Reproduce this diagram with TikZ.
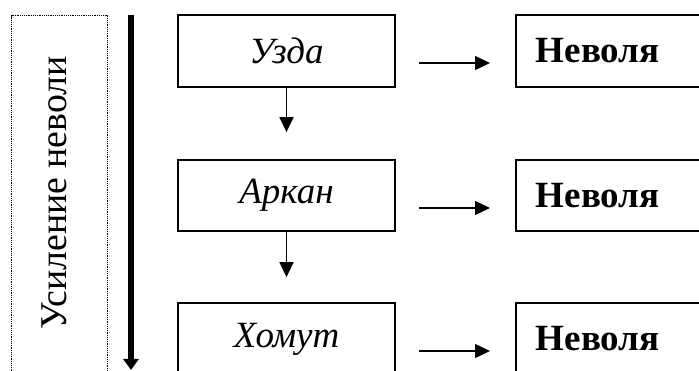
\documentclass[tikz,border=0pt]{standalone}
\usepackage{fontspec}
\setmainfont{Liberation Serif}
\usetikzlibrary{arrows.meta}
\tikzset{
  stagebox/.style={draw, line width=1.8pt, minimum width=217pt, minimum height=72pt, inner sep=0pt,
    font=\fontsize{37}{40}\selectfont\itshape},
  resultbox/.style={draw, line width=1.8pt, anchor=west, minimum height=72pt, text width=160pt,
    inner xsep=20pt, inner ysep=0pt, align=left, font=\fontsize{37}{40}\selectfont\bfseries},
  arr/.style={line width=1.5pt, -{Triangle[length=15pt,width=14pt]}},
  bigarr/.style={line width=5.5pt, -{Triangle[length=11pt,width=15pt]}}
}
\begin{document}
\begin{tikzpicture}[x=1pt,y=-1pt]
\useasboundingbox (0,0) rectangle (699,371);
\clip (0,0) rectangle (699,371);
% side label
\node[draw, line width=1.3pt, dash pattern=on 1.2pt off 1pt, minimum width=96pt, minimum height=365pt,
  anchor=north west, inner sep=0pt] (side) at (11,15) {};
\node[rotate=90, anchor=base, font=\fontsize{37.8}{40}\selectfont] (sidetext) at (66,193) {Усиление неволи};
% big arrow
\coordinate (bigtop) at (131,15);
\coordinate (bigend) at (131,370);
\draw[bigarr] (bigtop) -- (bigend);
% stage boxes
\node[stagebox] (uzda) at (286.5,51) {Узда};
\node[stagebox, minimum height=71pt] (arkan) at (286.5,195.5) {Аркан};
\node[stagebox] (homut) at (286.5,339) {Хомут};
% result boxes
\node[resultbox] (nev1) at (515,51) {Неволя};
\node[resultbox, minimum height=71pt] (nev2) at (515,195.5) {Неволя};
\node[resultbox] (nev3) at (515,339) {Неволя};
% down arrows
\draw[arr] (uzda.south) -- ([yshift=27pt]arkan.north);
\draw[arr] (arkan.south) -- ([yshift=25pt]homut.north);
% horizontal arrows
\draw[arr] ([shift={(23,12)}]uzda.east) -- ([shift={(-25,12)}]nev1.west);
\draw[arr] ([shift={(23,12.5)}]arkan.east) -- ([shift={(-25,12.5)}]nev2.west);
\draw[arr] ([shift={(23,12)}]homut.east) -- ([shift={(-25,12)}]nev3.west);
\end{tikzpicture}
\end{document}
